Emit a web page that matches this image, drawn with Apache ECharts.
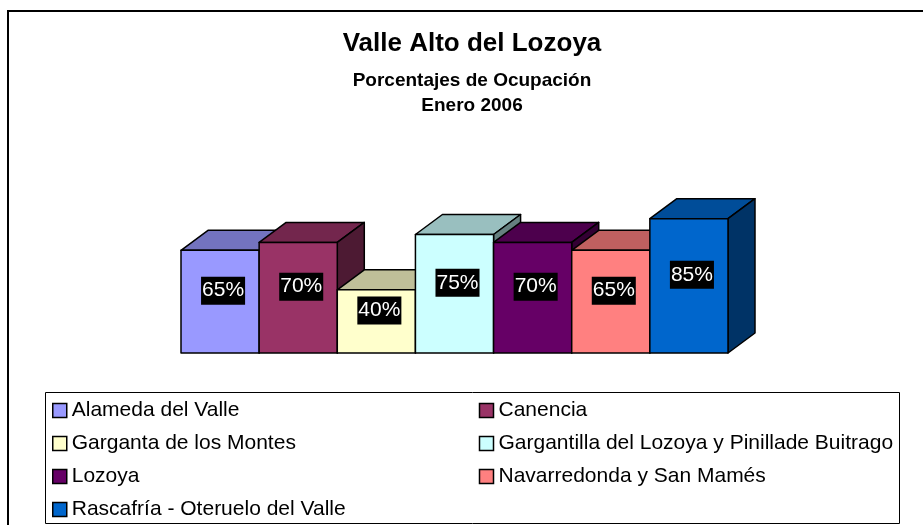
<!DOCTYPE html>
<html>
<head>
<meta charset="utf-8">
<script src="https://cdn.jsdelivr.net/npm/echarts@6/dist/echarts.min.js"></script>
<style>
  html, body { margin: 0; padding: 0; background: #fff; }
  #chart { width: 923px; height: 525px; }
</style>
</head>
<body>
<div id="chart"></div>
<script>
const municipios = [
  'Alameda del Valle',
  'Canencia',
  'Garganta de los Montes',
  'Gargantilla del Lozoya y Pinillade Buitrago',
  'Lozoya',
  'Navarredonda y San Mamés',
  'Rascafría - Oteruelo del Valle'
];
const ocupacion = [65, 70, 40, 75, 70, 65, 85];
const colores = ['#9999FF', '#993366', '#FFFFCC', '#CCFFFF', '#660066', '#FF8080', '#0066CC'];

const FONT = '"Liberation Sans", Arial, sans-serif';

// oscurece un color hex (para las caras superior y lateral)
function oscurecer(hex, f) {
  const n = parseInt(hex.slice(1), 16);
  const r = Math.round(((n >> 16) & 255) * f);
  const g = Math.round(((n >> 8) & 255) * f);
  const b = Math.round((n & 255) * f);
  return 'rgb(' + r + ',' + g + ',' + b + ')';
}

const chart = echarts.init(document.getElementById('chart'));

const DX = 27, DY = 20; // profundidad de la barra 3D

function barra3D(params, api) {
  const idx = api.value(0);
  const v = api.value(1);
  const arriba = api.coord([idx, v]);
  const abajo = api.coord([idx, 0]);
  const w = api.size([1, 0])[0];
  const x0 = arriba[0] - w / 2, x1 = arriba[0] + w / 2;
  const yT = arriba[1], yB = abajo[1];
  const color = colores[params.seriesIndex];
  const borde = { stroke: '#000', lineWidth: 1.5, lineJoin: 'round' };
  return {
    type: 'group',
    children: [
      {
        type: 'polygon',
        shape: { points: [[x0, yT], [x0 + DX, yT - DY], [x1 + DX, yT - DY], [x1, yT]] },
        style: Object.assign({ fill: oscurecer(color, 0.75) }, borde)
      },
      {
        type: 'polygon',
        shape: { points: [[x1, yT], [x1 + DX, yT - DY], [x1 + DX, yB - DY], [x1, yB]] },
        style: Object.assign({ fill: oscurecer(color, 0.5) }, borde)
      },
      {
        type: 'rect',
        shape: { x: x0, y: yT, width: x1 - x0, height: yB - yT },
        style: Object.assign({ fill: color }, borde)
      },
      {
        type: 'text',
        x: (x0 + x1) / 2 + 3,
        y: (yT + yB) / 2 - 11,
        style: {
          text: v + '%',
          fill: '#fff',
          backgroundColor: '#000',
          padding: [4, 1, 3, 1],
          font: '21px ' + FONT,
          align: 'center',
          verticalAlign: 'middle'
        }
      }
    ]
  };
}

const series = municipios.map((nombre, i) => ({
  name: nombre,
  type: 'custom',
  renderItem: barra3D,
  itemStyle: { color: colores[i] },
  data: [[i, ocupacion[i]]],
  encode: { x: 0, y: 1 }
}));

const option = {
  animation: false,
  title: {
    text: 'Valle Alto del Lozoya',
    subtext: 'Porcentajes de Ocupación\nEnero 2006',
    left: 472,
    textAlign: 'center',
    top: 29,
    padding: 0,
    itemGap: 9,
    textStyle: { fontFamily: FONT, fontSize: 26, fontWeight: 'bold', color: '#000', lineHeight: 30 },
    subtextStyle: { fontFamily: FONT, fontSize: 19, fontWeight: 'bold', color: '#000', lineHeight: 25 }
  },
  legend: {
    left: 52,
    top: 394,
    width: 860,
    padding: 0,
    itemGap: 0,
    itemWidth: 14,
    itemHeight: 14,
    icon: 'rect',
    itemStyle: { borderColor: '#000', borderWidth: 1.5 },
    textStyle: { fontFamily: FONT, fontSize: 21, color: '#000', width: 407, lineHeight: 33 },
    data: municipios
  },
  grid: { left: 181, right: 195, top: 195, bottom: 172 },
  xAxis: { type: 'category', data: municipios, show: false },
  yAxis: { type: 'value', min: 0, max: 100, show: false },
  graphic: [
    {
      type: 'rect',
      shape: { x: 8, y: 11, width: 940, height: 540 },
      style: { fill: null, stroke: '#000', lineWidth: 2 },
      silent: true
    },
    {
      type: 'rect',
      shape: { x: 45.5, y: 392.5, width: 854, height: 131 },
      style: { fill: null, stroke: '#000', lineWidth: 1 },
      silent: true
    }
  ],
  series: series
};

chart.setOption(option);
</script>
</body>
</html>
